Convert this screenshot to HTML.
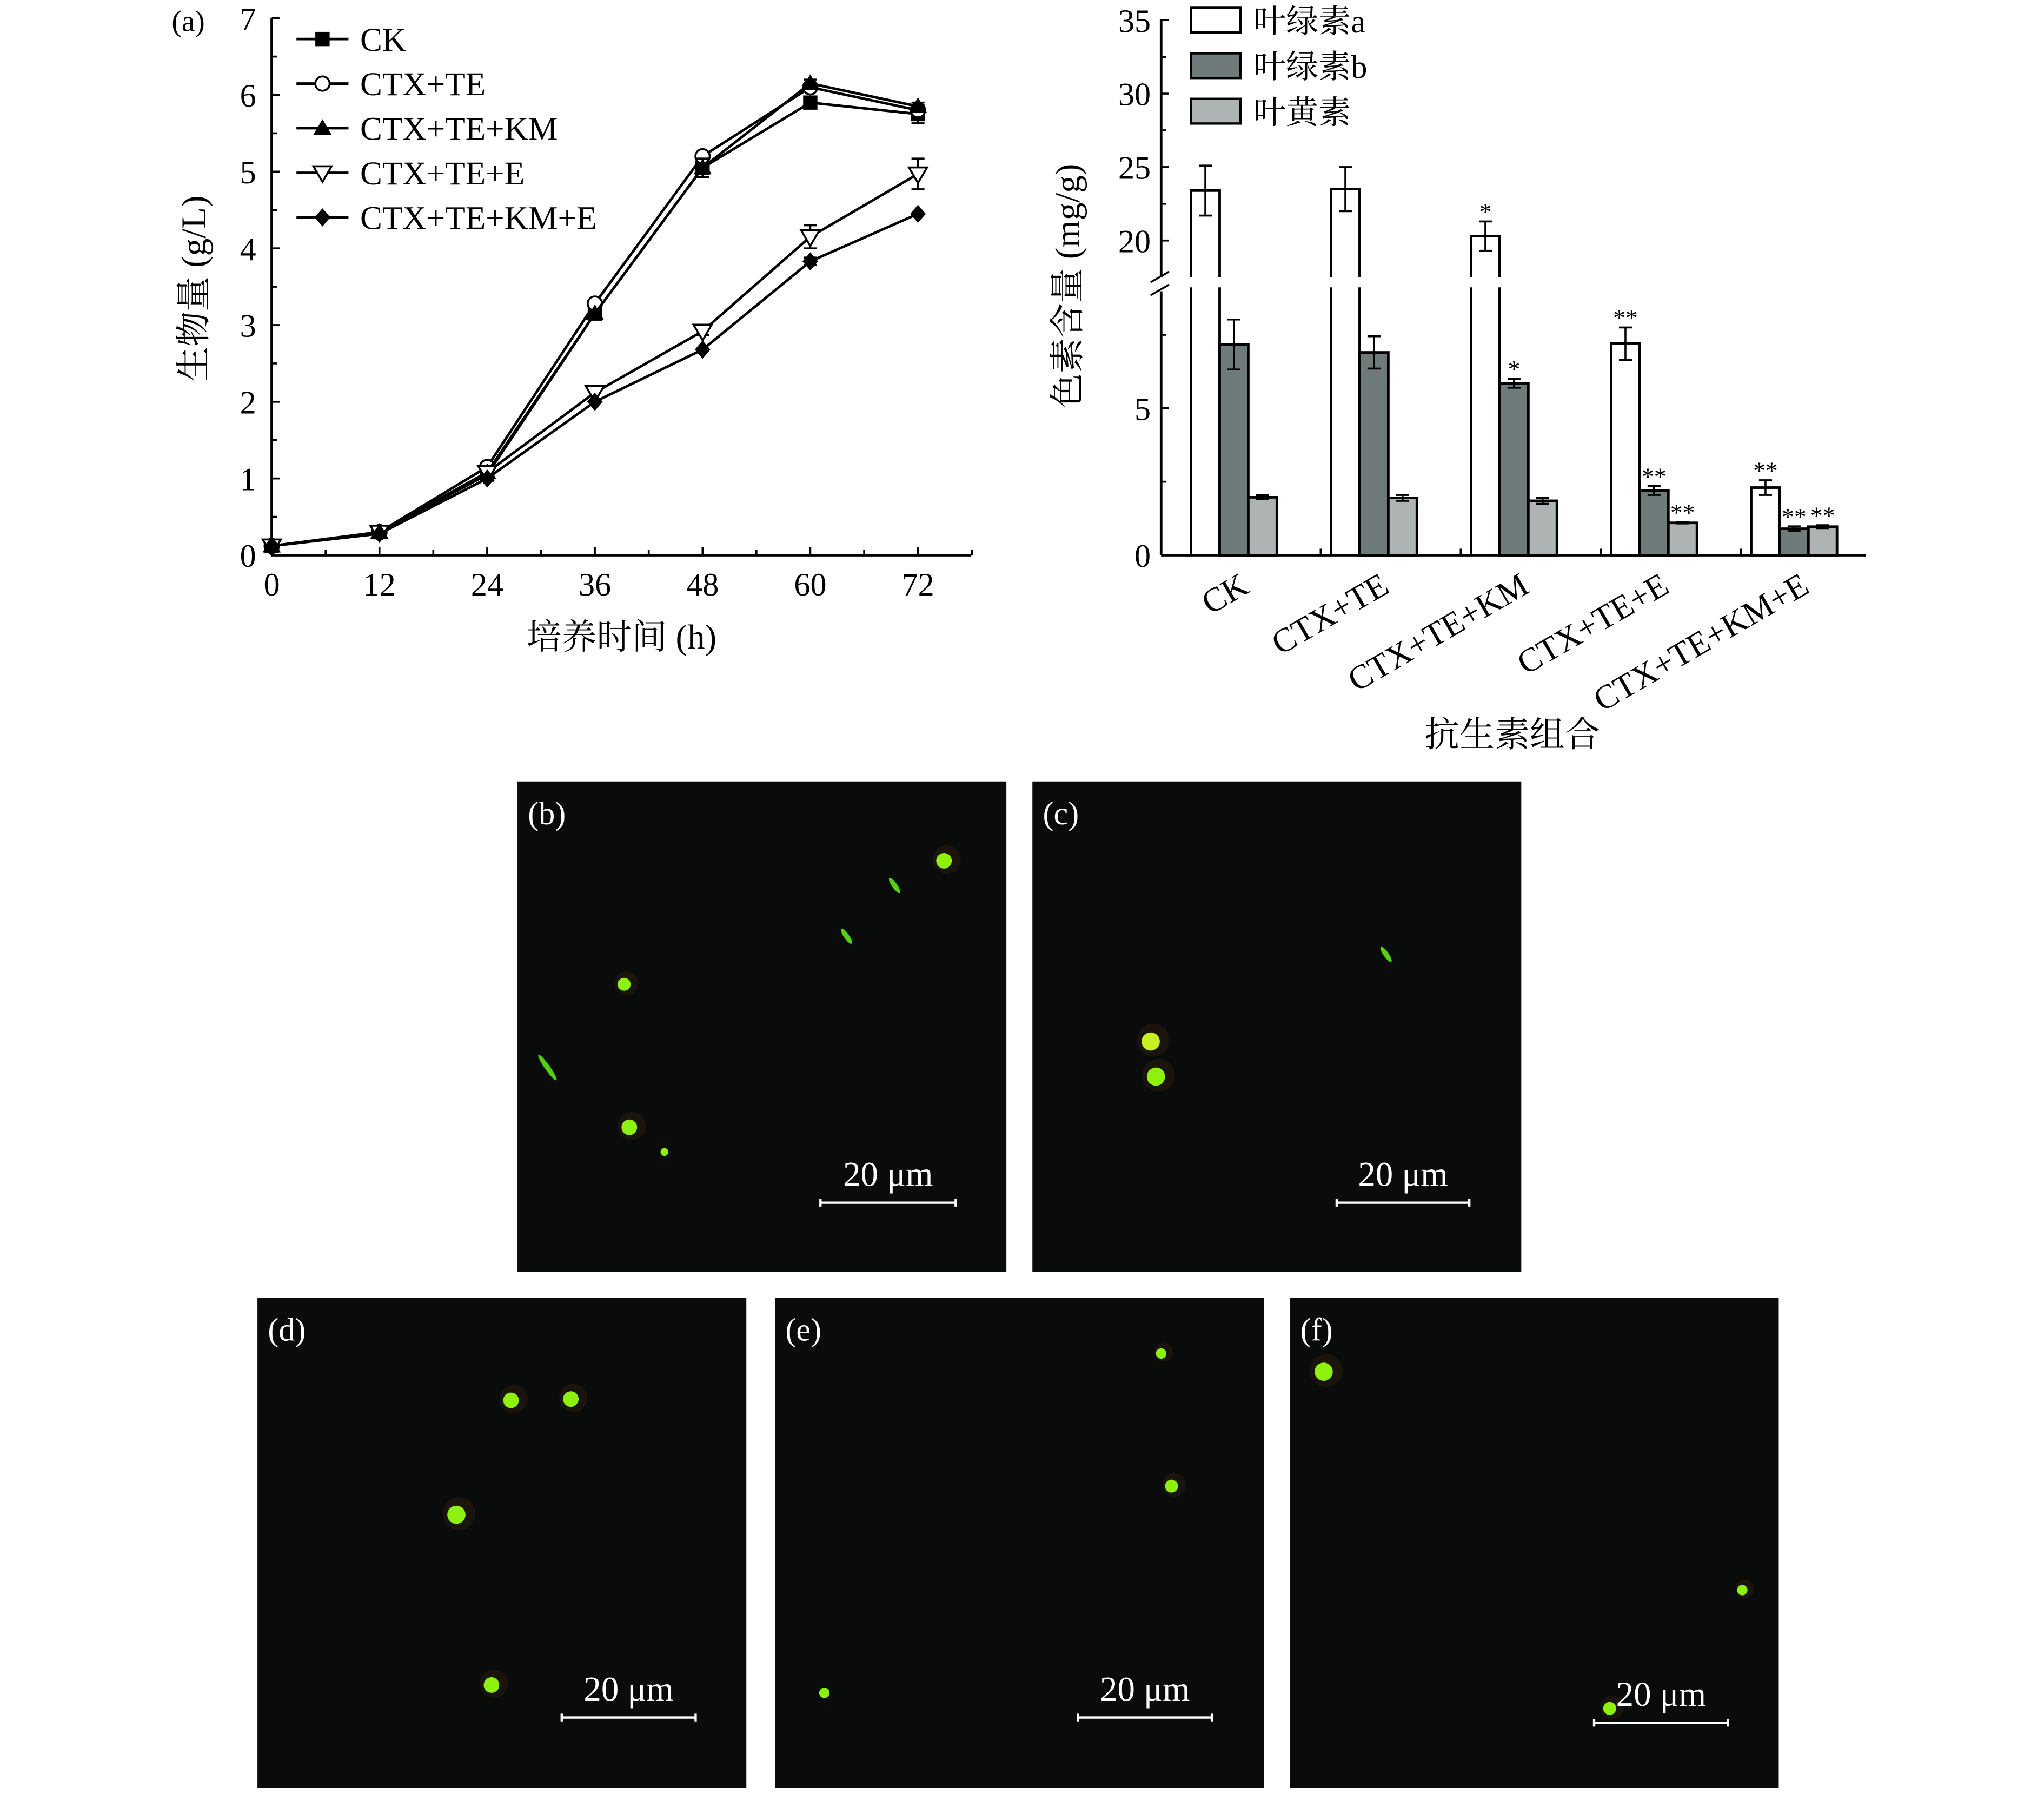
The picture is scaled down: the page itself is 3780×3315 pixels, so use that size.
<!DOCTYPE html>
<html><head><meta charset="utf-8"><style>
html,body{margin:0;padding:0;background:#fff;}
svg{display:block;}
text{font-family:"Liberation Serif","Noto Serif CJK SC",serif;}
</style></head><body>
<svg id="fig" width="3780" height="3315" viewBox="0 0 1572 1379" preserveAspectRatio="none" xmlns="http://www.w3.org/2000/svg">
<g id="chartA"></g>
<g id="chartB"></g>
<g id="micro"></g>
</svg>
<script>
// ---- Chart A data ----
const timePoints = [0, 12, 24, 36, 48, 60, 72];
const seriesNames = ["CK", "CTX+TE", "CTX+TE+KM", "CTX+TE+E", "CTX+TE+KM+E"];
const ckValues = [0.12, 0.3, 1.05, 3.15, 5.05, 5.9, 5.75];
const ctxTeValues = [0.12, 0.3, 1.15, 3.28, 5.2, 6.1, 5.8];
const ctxTeKmValues = [0.12, 0.3, 1.08, 3.15, 5.05, 6.15, 5.85];
const ctxTeEValues = [0.12, 0.3, 1.08, 2.12, 2.92, 4.15, 4.97];
const ctxTeKmEValues = [0.12, 0.28, 1.0, 2.0, 2.68, 3.83, 4.45];
const ckErr = [0, 0, 0, 0, 0.05, 0.05, 0.12];
const ctxTeErr = [0, 0, 0, 0, 0.05, 0.05, 0.05];
const ctxTeKmErr = [0, 0, 0, 0, 0.12, 0.05, 0.05];
const ctxTeEErr = [0, 0, 0, 0, 0.05, 0.15, 0.2];
const ctxTeKmEErr = [0, 0, 0, 0, 0, 0.05, 0];
const yTicksA = [0, 1, 2, 3, 4, 5, 6, 7];
const xTicksA = [0, 12, 24, 36, 48, 60, 72];
// ---- Chart B data ----
const groups = ["CK", "CTX+TE", "CTX+TE+KM", "CTX+TE+E", "CTX+TE+KM+E"];
const pigmentNames = ["叶绿素a", "叶绿素b", "叶黄素"];
const chlA = [23.4, 23.5, 20.3, 7.2, 2.3];
const chlAErr = [1.7, 1.5, 1.0, 0.55, 0.25];
const chlB = [7.17, 6.9, 5.85, 2.2, 0.9];
const chlBErr = [0.85, 0.55, 0.15, 0.15, 0.08];
const lutein = [1.97, 1.95, 1.85, 1.1, 0.97];
const luteinErr = [0.07, 0.1, 0.1, 0.02, 0.05];
const chlAStars = ["", "", "*", "**", "**"];
const chlBStars = ["", "", "*", "**", "**"];
const luteinStars = ["", "", "", "**", "**"];
const yTicksBLow = [0, 5];
const yTicksBHigh = [20, 25, 30, 35];

const NS = "http://www.w3.org/2000/svg";
function mk(parent, tag, attrs, txt) {
  const e = document.createElementNS(NS, tag);
  for (const k in attrs) e.setAttribute(k, attrs[k]);
  if (txt !== undefined) e.textContent = txt;
  parent.appendChild(e);
  return e;
}

// ===== Chart A =====
(function () {
  const g = document.getElementById('chartA');
  const x0 = 209, y0 = 427;
  const xs = v => x0 + v * (497 / 72);
  const ys = v => y0 - v * 59;
  let e;
  e = mk(g, 'line', {x1: x0, y1: y0, x2: x0, y2: 14, stroke: '#000', 'stroke-width': 2});
  
  
  e = mk(g, 'line', {x1: x0, y1: y0, x2: 747, y2: y0, stroke: '#000', 'stroke-width': 2});
  
  
  yTicksA.forEach(v => {
    mk(g, 'line', {x1: x0, y1: ys(v), x2: x0 + 6, y2: ys(v), stroke: '#000', 'stroke-width': 1.5});
    if (v < 7) mk(g, 'line', {x1: x0, y1: ys(v + 0.5), x2: x0 + 4, y2: ys(v + 0.5), stroke: '#000', 'stroke-width': 1.5});
    e = mk(g, 'text', {x: x0 - 12, y: ys(v) + 9, 'font-size': 25, 'text-anchor': 'end'}, String(v));
    
    
  });
  xTicksA.forEach(v => {
    mk(g, 'line', {x1: xs(v), y1: y0, x2: xs(v), y2: y0 - 6, stroke: '#000', 'stroke-width': 1.5});
    mk(g, 'line', {x1: xs(v + 6), y1: y0, x2: xs(v + 6), y2: y0 - 4, stroke: '#000', 'stroke-width': 1.5});
    e = mk(g, 'text', {x: xs(v), y: y0 + 31, 'font-size': 25, 'text-anchor': 'middle'}, String(v));
    
    
  });
  e = mk(g, 'text', {x: 478, y: 499, 'font-size': 27, 'text-anchor': 'middle'}, '培养时间 (h)');
  
  
  e = mk(g, 'text', {x: 0, y: 0, 'font-size': 27, 'text-anchor': 'middle', transform: 'translate(158,222) rotate(-90)'}, '生物量 (g/L)');
  
  
  e = mk(g, 'text', {x: 132, y: 24, 'font-size': 23}, '(a)');
  
  

  const all = [ckValues, ctxTeValues, ctxTeKmValues, ctxTeEValues, ctxTeKmEValues];
  const errs = [ckErr, ctxTeErr, ctxTeKmErr, ctxTeEErr, ctxTeKmEErr];
  const markers = ['square', 'circle', 'triangle', 'invtri', 'diamond'];
  function marker(p, type, cx, cy) {
    const s = 5.5;
    if (type === 'square') return mk(p, 'rect', {x: cx - s, y: cy - s, width: 2 * s, height: 2 * s, fill: '#000'});
    if (type === 'circle') return mk(p, 'circle', {cx, cy, r: 5.5, fill: '#fff', stroke: '#000', 'stroke-width': 1.5});
    if (type === 'triangle') return mk(p, 'polygon', {points: `${cx},${cy - 7} ${cx - 7},${cy + 5} ${cx + 7},${cy + 5}`, fill: '#000'});
    if (type === 'invtri') return mk(p, 'polygon', {points: `${cx},${cy + 7} ${cx - 7},${cy - 5} ${cx + 7},${cy - 5}`, fill: '#fff', stroke: '#000', 'stroke-width': 1.5});
    return mk(p, 'polygon', {points: `${cx},${cy - 7} ${cx + 6},${cy} ${cx},${cy + 7} ${cx - 6},${cy}`, fill: '#000'});
  }
  all.forEach((vals, si) => {
    const sg = mk(g, 'g', {});
    
    
    const pts = vals.map((v, i) => xs(timePoints[i]) + ',' + ys(v)).join(' ');
    mk(sg, 'polyline', {points: pts, fill: 'none', stroke: '#000', 'stroke-width': 2});
    vals.forEach((v, i) => {
      const er = errs[si][i];
      if (er > 0) {
        const x = xs(timePoints[i]);
        mk(sg, 'line', {x1: x, y1: ys(v - er), x2: x, y2: ys(v + er), stroke: '#000', 'stroke-width': 1.5});
        mk(sg, 'line', {x1: x - 5, y1: ys(v + er), x2: x + 5, y2: ys(v + er), stroke: '#000', 'stroke-width': 1.5});
        mk(sg, 'line', {x1: x - 5, y1: ys(v - er), x2: x + 5, y2: ys(v - er), stroke: '#000', 'stroke-width': 1.5});
      }
      const m = marker(sg, markers[si], xs(timePoints[i]), ys(v));
      
      
    });
    const ly = 30 + si * 34.3;
    const lg = mk(g, 'g', {});
    
    
    mk(lg, 'line', {x1: 228, y1: ly, x2: 268, y2: ly, stroke: '#000', 'stroke-width': 2});
    marker(lg, markers[si], 248, ly);
    mk(lg, 'text', {x: 277, y: ly + 9, 'font-size': 25.5}, seriesNames[si]);
  });
})();

// ===== Chart B =====
(function () {
  const g = document.getElementById('chartB');
  const x0 = 893, y0 = 427;
  const yLowTop = 221, yHighBot = 213;
  function ys(v) {
    if (v <= 9.2) return y0 - v * 22.6;
    return 185 - (v - 20) * 11.3;
  }
  let e;
  e = mk(g, 'line', {x1: x0, y1: y0, x2: x0, y2: yLowTop + 3, stroke: '#000', 'stroke-width': 2});
  
  
  e = mk(g, 'line', {x1: x0, y1: yHighBot, x2: x0, y2: 15, stroke: '#000', 'stroke-width': 2});
  
  
  e = mk(g, 'path', {d: `M${x0 - 8},${yHighBot + 4} L${x0 + 6},${yHighBot - 4} M${x0 - 8},${yLowTop + 6} L${x0 + 6},${yLowTop - 2}`, stroke: '#000', 'stroke-width': 1.5, fill: 'none'});
  
  
  e = mk(g, 'line', {x1: x0, y1: y0, x2: 1435, y2: y0, stroke: '#000', 'stroke-width': 2});
  
  
  yTicksBLow.concat(yTicksBHigh).forEach(v => {
    mk(g, 'line', {x1: x0, y1: ys(v), x2: x0 + 6, y2: ys(v), stroke: '#000', 'stroke-width': 1.5});
    e = mk(g, 'text', {x: x0 - 8, y: ys(v) + 9, 'font-size': 25, 'text-anchor': 'end'}, String(v));
    
    
  });
  [2.5, 7.5].forEach(v => mk(g, 'line', {x1: x0, y1: ys(v), x2: x0 + 4, y2: ys(v), stroke: '#000', 'stroke-width': 1.5}));
  [22.5, 27.5, 32.5].forEach(v => mk(g, 'line', {x1: x0, y1: ys(v), x2: x0 + 4, y2: ys(v), stroke: '#000', 'stroke-width': 1.5}));
  e = mk(g, 'text', {x: 0, y: 0, 'font-size': 27, 'text-anchor': 'middle', transform: 'translate(830,220) rotate(-90)'}, '色素含量 (mg/g)');
  
  
  e = mk(g, 'text', {x: 1163, y: 574, 'font-size': 27, 'text-anchor': 'middle'}, '抗生素组合');
  
  

  const fills = ['#fff', '#6f7b7a', '#adb4b3'];
  const series = [chlA, chlB, lutein];
  const serr = [chlAErr, chlBErr, luteinErr];
  const stars = [chlAStars, chlBStars, luteinStars];
  const bw = 22, gstep = 107.7, gstart = 916;
  groups.forEach((name, gi) => {
    const gx = gstart + gi * gstep;
    if (gi > 0) mk(g, 'line', {x1: gx - 8, y1: y0, x2: gx - 8, y2: y0 - 5, stroke: '#000', 'stroke-width': 1.5});
    series.forEach((vals, si) => {
      const v = vals[gi], bx = gx + si * bw;
      const top = ys(v);
      let r;
      if (v > 9.2) {
        r = mk(g, 'path', {d: `M${bx},${y0} L${bx},${yLowTop} M${bx + bw},${y0} L${bx + bw},${yLowTop} M${bx},${yHighBot} L${bx},${top} L${bx + bw},${top} L${bx + bw},${yHighBot}`, fill: 'none', stroke: '#000', 'stroke-width': 2});
      } else {
        r = mk(g, 'rect', {x: bx, y: top, width: bw, height: y0 - top, fill: fills[si], stroke: '#000', 'stroke-width': 2});
      }
      
      
      const er = serr[si][gi], cx = bx + bw / 2;
      const yt = ys(v + er), yb = ys(v - er);
      mk(g, 'line', {x1: cx, y1: yt, x2: cx, y2: yb, stroke: '#000', 'stroke-width': 1.5});
      mk(g, 'line', {x1: cx - 5, y1: yt, x2: cx + 5, y2: yt, stroke: '#000', 'stroke-width': 1.5});
      mk(g, 'line', {x1: cx - 5, y1: yb, x2: cx + 5, y2: yb, stroke: '#000', 'stroke-width': 1.5});
      if (stars[si][gi]) {
        e = mk(g, 'text', {x: cx, y: yt - 1, 'font-size': 19, 'text-anchor': 'middle'}, stars[si][gi]);
        
        
      }
    });
    e = mk(g, 'text', {x: 0, y: 0, 'font-size': 26, 'text-anchor': 'end', transform: `translate(${gx + 46},${y0 + 28}) rotate(-30)`}, name);
    
    
  });
  pigmentNames.forEach((n, i) => {
    const ly = 15 + i * 35;
    const lg = mk(g, 'g', {});
    
    
    mk(lg, 'rect', {x: 916, y: ly - 9, width: 38, height: 19, fill: fills[i], stroke: '#000', 'stroke-width': 1.8});
    mk(lg, 'text', {x: 964, y: ly + 10, 'font-size': 25}, n);
  });
})();

// ===== Microscopy panels =====
const panelLabels = ["(b)", "(c)", "(d)", "(e)", "(f)"];
(function () {
  const g = document.getElementById('micro');
  const panels = [
    {x: 398, y: 601, bar: [631, 735, 925]},
    {x: 794, y: 601, bar: [1028, 1130, 925]},
    {x: 198, y: 998, bar: [432, 535, 1321]},
    {x: 596, y: 998, bar: [829, 932, 1321]},
    {x: 992, y: 998, bar: [1226, 1329, 1325]}
  ];
  const cells = [
    [[726, 662, 6, 1], [480, 757, 5, 1], [484, 867, 6, 1], [511, 886, 3, 0]],
    [[885, 801, 7, 2], [889, 828, 7, 1]],
    [[393, 1077, 6, 1], [439, 1076, 6, 1], [351, 1165, 7, 1], [378, 1296, 6, 1]],
    [[893, 1041, 4, 1], [901, 1143, 5, 1], [634, 1302, 4, 0]],
    [[1018, 1055, 7, 1], [1340, 1223, 4, 1], [1238, 1314, 5, 1]]
  ];
  const rods = [
    [[688, 681, 7], [651, 720, 7], [421, 821, 12]],
    [[1066, 734, 7]], [], [], []
  ];
  panels.forEach((p, i) => {
    const pg = mk(g, 'g', {});
    
    
    mk(pg, 'rect', {x: p.x, y: p.y, width: 376, height: 377, fill: '#0a0c0b'});
    cells[i].forEach(c => {
      if (c[3]) mk(pg, 'circle', {cx: c[0] + 2, cy: c[1] - 1, r: c[2] * 1.8, fill: '#2a1c10', opacity: 0.5});
      mk(pg, 'circle', {cx: c[0], cy: c[1], r: c[2], fill: c[3] === 2 ? '#c8f020' : '#8ef00e'});
    });
    rods[i].forEach(r => {
      mk(pg, 'ellipse', {cx: r[0], cy: r[1], rx: 2, ry: r[2], fill: '#55d010', transform: `rotate(-35,${r[0]},${r[1]})`});
    });
    let e = mk(pg, 'text', {x: p.x + 8, y: p.y + 33, 'font-size': 25, fill: '#fff'}, panelLabels[i]);
    
    
    const [bx1, bx2, by] = p.bar;
    mk(pg, 'path', {d: `M${bx1},${by} L${bx2},${by} M${bx1},${by - 3} L${bx1},${by + 3} M${bx2},${by - 3} L${bx2},${by + 3}`, stroke: '#fff', 'stroke-width': 1.8, fill: 'none'});
    e = mk(pg, 'text', {x: (bx1 + bx2) / 2, y: by - 13, 'font-size': 27, fill: '#fff', 'text-anchor': 'middle'}, '20 μm');
    
    
  });
})();
</script>
</body></html>
